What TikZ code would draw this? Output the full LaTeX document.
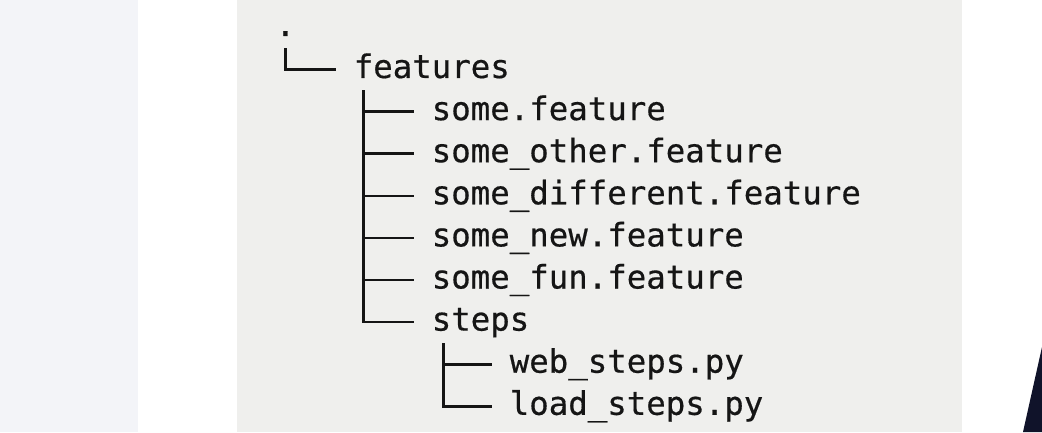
\documentclass[tikz,border=0pt]{standalone}
\usepackage{fontspec}
\setmonofont{DejaVu Sans Mono}[FakeBold=0.5]
\usetikzlibrary{calc}
\definecolor{leftbg}{HTML}{F3F4F8}
\definecolor{panelbg}{HTML}{EFEFED}
\definecolor{ink}{HTML}{151515}
\definecolor{darkshape}{HTML}{10132A}
\begin{document}
\begin{tikzpicture}[x=1pt,y=1pt,
  entry/.style={anchor=base west, inner sep=0pt, outer sep=0pt,
    font=\ttfamily\fontsize{32.4}{40}\selectfont, text=ink},
  branch/.style={draw=ink, line width=2.6pt}]
\useasboundingbox (0,0) rectangle (1042,432);
\fill[white] (0,0) rectangle (1042,432);
\fill[leftbg] (0,0) rectangle (138,432);
\fill[panelbg] (237,0) rectangle (962,432);
\fill[darkshape] (1023,0) -- (1042,85) -- (1042,0) -- cycle;

\node[entry] (root) at (275.75,396) {.};
\node[entry] (features) at (353.75,354) {features};
\node[entry] (f1) at (431.75,311.9) {some.feature};
\node[entry] (f2) at (431.75,269.8) {some\_other.feature};
\node[entry] (f3) at (431.75,227.7) {some\_different.feature};
\node[entry] (f4) at (431.75,185.6) {some\_new.feature};
\node[entry] (f5) at (431.75,143.5) {some\_fun.feature};
\node[entry] (steps) at (431.75,101.4) {steps};
\node[entry] (web) at (509.75,59.3) {web\_steps.py};
\node[entry] (load) at (509.75,17.2) {load\_steps.py};

\draw[branch] ([xshift=9.75pt,yshift=-12.5pt]root.base west) |- ([xshift=-18pt,yshift=8.5pt]features.base west);
\foreach \c in {f1,f2,f3,f4,f5,steps}
  \draw[branch] ([xshift=9.75pt,yshift=-12.5pt]features.base west) |- ([xshift=-18pt,yshift=8.5pt]\c.base west);
\foreach \c in {web,load}
  \draw[branch] ([xshift=11.5pt,yshift=-12.5pt]steps.base west) |- ([xshift=-18pt,yshift=8.5pt]\c.base west);
\end{tikzpicture}
\end{document}
